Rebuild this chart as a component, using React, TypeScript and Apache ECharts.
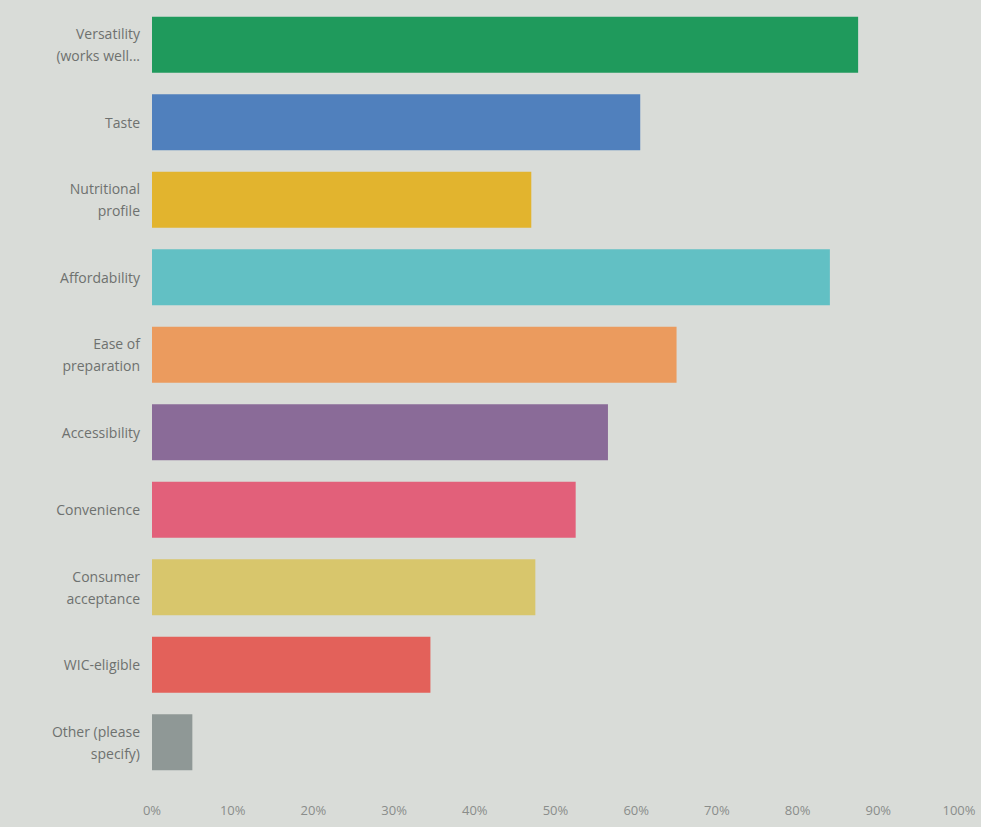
import React, { useEffect, useRef } from "react";
import * as echarts from "echarts";

const categories = [
  "Versatility\n(works well...",
  "Taste",
  "Nutritional\nprofile",
  "Affordability",
  "Ease of\npreparation",
  "Accessibility",
  "Convenience",
  "Consumer\nacceptance",
  "WIC-eligible",
  "Other (please\nspecify)",
];

const values = [87.5, 60.5, 47, 84, 65, 56.5, 52.5, 47.5, 34.5, 5];

const colors = [
  "#1f9a5c",
  "#5080bd",
  "#e2b42e",
  "#62c0c4",
  "#eb9b5e",
  "#8a6b98",
  "#e2607a",
  "#d8c66c",
  "#e3615a",
  "#8f9896",
];

const tickLabels = ["0%", "10%", "20%", "30%", "40%", "50%", "60%", "70%", "80%", "90%", "100%"];

export default function App() {
  const ref = useRef<HTMLDivElement>(null);

  useEffect(() => {
    document.body.style.margin = "0";
    if (!ref.current) return;
    const chart = echarts.init(ref.current, undefined, { renderer: "svg" });
    chart.setOption({
      animation: false,
      backgroundColor: "#d9dcd8",
      grid: { left: 152, right: 22, top: 6, bottom: 46, containLabel: false },
      xAxis: {
        type: "value",
        min: 0,
        max: 100,
        interval: 10,
        axisLine: { show: false },
        axisTick: { show: false },
        splitLine: { show: false },
        axisLabel: {
          color: "#8a8d8b",
          fontSize: 13,
          fontFamily: "Open Sans",
          margin: 22,
          formatter: (v: number) => tickLabels[Math.round(v / 10)],
        },
      },
      yAxis: {
        type: "category",
        inverse: true,
        data: categories,
        axisLine: { show: false },
        axisTick: { show: false },
        axisLabel: {
          color: "#6e716f",
          fontSize: 14,
          fontFamily: "Open Sans",
          lineHeight: 22,
          margin: 12,
          align: "right",
        },
      },
      series: [
        {
          type: "bar",
          data: values.map((v, i) => ({ value: v, itemStyle: { color: colors[i] } })),
          barCategoryGap: "28%",
        },
      ],
    });
    return () => chart.dispose();
  }, []);

  return <div ref={ref} style={{ width: 981, height: 827 }} />;
}
